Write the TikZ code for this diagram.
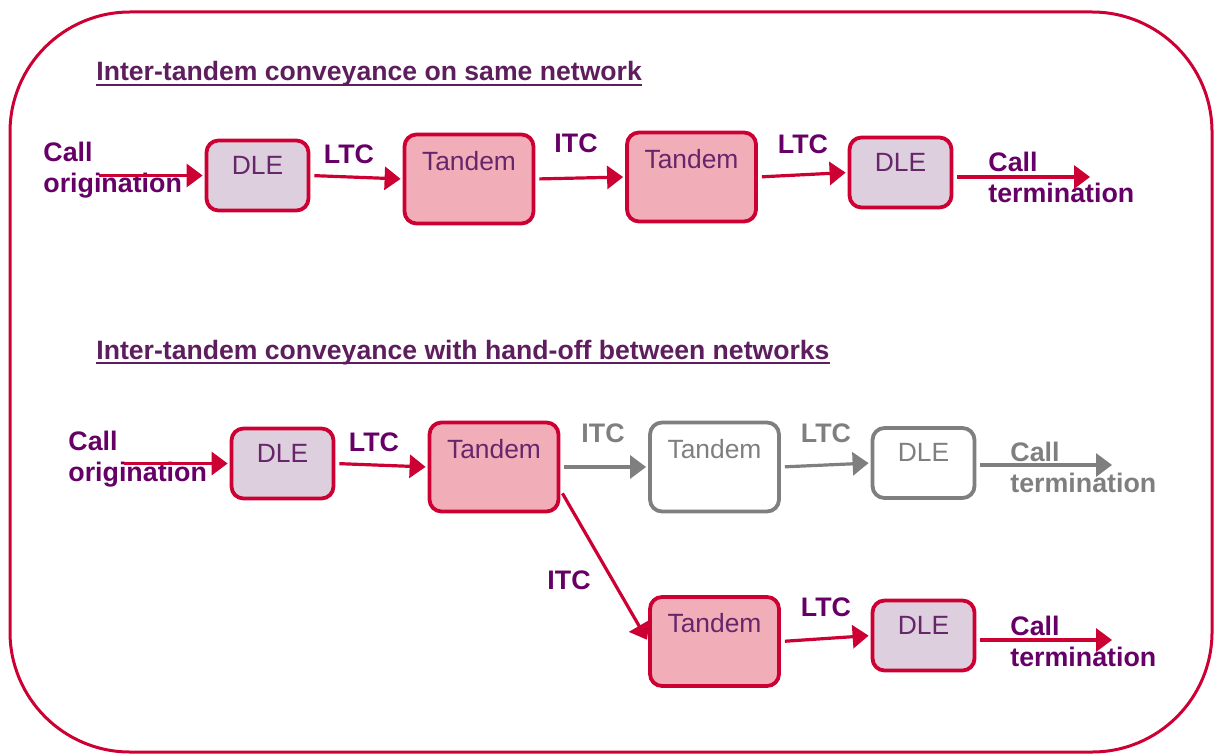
\documentclass[tikz,border=0pt]{standalone}
\usepackage{fontspec}
\setmainfont{Liberation Sans}
\usepackage{xcolor}
\usetikzlibrary{arrows.meta,positioning}
\definecolor{crim}{HTML}{CC0033}
\definecolor{dlefill}{HTML}{DDCFDD}
\definecolor{tanfill}{HTML}{F2AEB8}
\definecolor{boxtxt}{HTML}{66266A}
\definecolor{lblcol}{HTML}{660066}
\definecolor{ttlcol}{HTML}{5E1E5E}
\definecolor{offgray}{HTML}{7F7F7F}

\begin{document}
\begin{tikzpicture}[x=0.5pt,y=-0.5pt,>={Triangle[length=8pt,width=11.5pt]},
 box/.style={draw=crim,line width=1.9pt,rounded corners=6pt,font=\fontsize{13.2}{15}\selectfont,text=boxtxt},
 dle/.style={box,fill=dlefill,minimum width=51pt,minimum height=35pt,text depth=10.5pt},
 tan/.style={box,fill=tanfill,minimum width=64.5pt,minimum height=44.5pt,text depth=18.5pt},
 off/.style={draw=offgray,fill=white,text=offgray},
 lbl/.style={font=\bfseries\fontsize{13.4}{15.5}\selectfont,text=lblcol,align=left,inner sep=0pt},
 ttl/.style={font=\bfseries\fontsize{13.3}{16}\selectfont,text=ttlcol,inner sep=0pt,anchor=base west},
 ar/.style={->,draw=crim,line width=1.6pt,shorten <=2pt,shorten >=1pt},
 gar/.style={ar,draw=offgray}]
 \useasboundingbox (0,0) rectangle (1218,754);
 \draw[crim,line width=1.5pt,rounded corners=60pt] (10,12) rectangle (1212,752);
 \node[ttl] (t1) at (96,81) {Inter-tandem conveyance on same network};
 \node[ttl] (t2) at (96,359) {Inter-tandem conveyance with hand-off between networks};
 \draw[ttlcol,line width=1pt] ([yshift=-2pt]t1.base west) -- ([yshift=-2pt]t1.base east);
 \draw[ttlcol,line width=1pt] ([yshift=-2pt]t2.base west) -- ([yshift=-2pt]t2.base east);

 \node[dle] (d1) at (257.5,175.5) {DLE};
 \node[tan] (a1) at (469,179) {Tandem};
 \node[tan] (a2) at (691.5,177) {Tandem};
 \node[dle] (d2) at (900.5,172.5) {DLE};
 \coordinate (o1) at (95,175.5);
 \coordinate (e1) at (1092,177);
 \node[lbl,anchor=west] (co1) at (43,170.5) {Call\\origination};
 \node[lbl] (l1) at (349,154) {LTC};
 \node[lbl] (i1) at (576,143) {ITC};
 \node[lbl] (l2) at (803,144) {LTC};
 \node[lbl,anchor=west] (ct1) at (988,177.5) {Call\\termination};
 \draw[ar] (o1) -- (o1 -| d1.west); \draw[ar] (d1.east) -- (a1.west); \draw[ar] (a1.east) -- (a2.west);
 \draw[ar] (a2.east) -- (d2.west); \draw[ar] (d2.east |- e1) -- (e1);

 \node[dle] (d3) at (282.5,463.5) {DLE};
 \node[tan] (a3) at (494,467) {Tandem};
 \node[tan,off] (a4) at (714.5,467) {Tandem};
 \node[dle,off] (d4) at (923.5,463) {DLE};
 \node[tan] (a5) at (714.5,641.5) {Tandem};
 \node[dle] (d5) at (923.5,635.5) {DLE};
 \coordinate (o2) at (120,463.5);
 \coordinate (e2) at (1114,465);
 \coordinate (e3) at (1114,640);
 \node[lbl,anchor=west] (co2) at (68,459) {Call\\origination};
 \node[lbl] (l3) at (374,442) {LTC};
 \node[lbl,text=offgray] (i2) at (603,433) {ITC};
 \node[lbl,text=offgray] (l4) at (826,433) {LTC};
 \node[lbl,anchor=west,text=offgray] (ct2) at (1010,467) {Call\\termination};
 \node[lbl] (i3) at (569,580) {ITC};
 \node[lbl] (l5) at (826,607) {LTC};
 \node[lbl,anchor=west] (ct3) at (1010,641) {Call\\termination};
 \draw[ar] (o2) -- (o2 -| d3.west); \draw[ar] (d3.east) -- (a3.west);
 \draw[gar] (a3.east) -- (a4.west); \draw[gar] (a4.east) -- (d4.west); \draw[gar] (d4.east |- e2) -- (e2);
 \draw[ar] (a3.-19) -- (a5.west); \draw[ar] (a5.east) -- (d5.west); \draw[ar] (d5.east |- e3) -- (e3);
\end{tikzpicture}
\end{document}
